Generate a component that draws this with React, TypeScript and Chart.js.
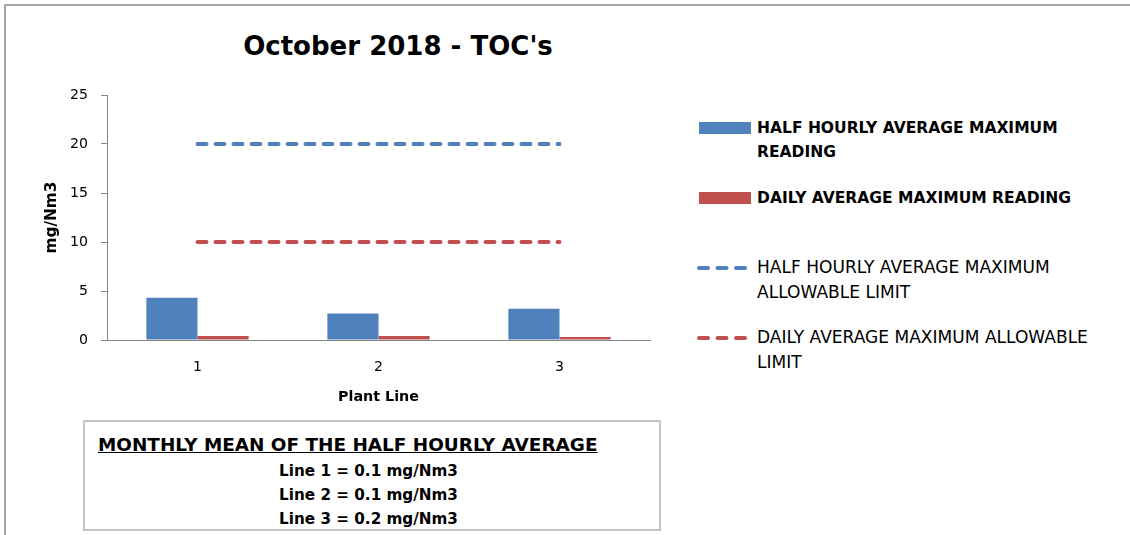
import React, { useEffect, useMemo, useRef } from 'react';
import { Chart, registerables } from 'chart.js';

Chart.register(...registerables);

// ---------- data ----------
const plantLines = ['1', '2', '3'];
const halfHourlyMaxReading = [4.3, 2.7, 3.2];
const dailyMaxReading = [0.4, 0.4, 0.3];
const halfHourlyLimit = [20, 20, 20];
const dailyLimit = [10, 10, 10];
const yMin = 0;
const yMax = 25;
const yStep = 5;
const monthlyMeanLineNames = ['Line 1', 'Line 2', 'Line 3'];
const monthlyMeanValues = ['0.1', '0.1', '0.2'];

const chartTitle = "October 2018 - TOC's";
const xAxisTitle = 'Plant Line';
const yAxisTitle = 'mg/Nm3';
const boxTitle = 'MONTHLY MEAN OF THE HALF HOURLY AVERAGE';
const unit = 'mg/Nm3';
const legendBar1 = ['HALF HOURLY AVERAGE MAXIMUM', 'READING'];
const legendBar2 = ['DAILY AVERAGE MAXIMUM READING'];
const legendLine1 = ['HALF HOURLY AVERAGE MAXIMUM', 'ALLOWABLE LIMIT'];
const legendLine2 = ['DAILY AVERAGE MAXIMUM ALLOWABLE', 'LIMIT'];

// ---------- style ----------
const FAMILY = 'DejaVu Sans';
const FONT = '"DejaVu Sans", sans-serif';
const BLUE = '#4F81BD';
const RED = '#C0504D';
const AXIS = '#868686';
const CAPC = 0.48; // cap-centre offset (em) for line-height 1

function measure(text: string, weight: string | number, size = 100): number {
  const c = document.createElement('canvas').getContext('2d');
  if (!c) return text.length * size * 0.6;
  c.font = `${weight} ${size}px "${FAMILY}"`;
  return c.measureText(text).width;
}
function fit(text: string, weight: string | number, target: number): number {
  return (100 * target) / measure(text, weight, 100);
}

function Txt(props: {
  text: string;
  x: number;
  cy: number;
  size: number;
  weight?: string | number;
  align?: 'left' | 'center';
  underline?: boolean;
}) {
  const { text, x, cy, size, weight = 'normal', align = 'left', underline } = props;
  const base: React.CSSProperties = {
    position: 'absolute',
    top: cy - CAPC * size,
    fontSize: size,
    lineHeight: `${size}px`,
    fontWeight: weight as any,
    fontFamily: FONT,
    whiteSpace: 'nowrap',
    color: '#000',
    textDecoration: underline ? 'underline' : 'none',
  };
  if (align === 'center') {
    return <div style={{ ...base, left: x - 500, width: 1000, textAlign: 'center' }}>{text}</div>;
  }
  return <div style={{ ...base, left: x }}>{text}</div>;
}

function DashSample({ color, x, cy }: { color: string; x: number; cy: number }) {
  return (
    <svg style={{ position: 'absolute', left: x, top: cy - 6 }} width={56} height={12}>
      <line x1={3} y1={6} x2={49} y2={6} stroke={color} strokeWidth={4} strokeLinecap="round" strokeDasharray="9 9.5" />
    </svg>
  );
}

function ChartCanvas({ tickSize, xTitleSize, yTitleSize }: { tickSize: number; xTitleSize: number; yTitleSize: number }) {
  const ref = useRef<HTMLCanvasElement | null>(null);
  useEffect(() => {
    if (!ref.current) return;
    const chart = new Chart(ref.current, {
      type: 'bar',
      data: {
        labels: plantLines,
        datasets: [
          {
            type: 'line',
            label: legendLine1.join(' '),
            data: halfHourlyLimit,
            borderColor: BLUE,
            borderWidth: 4,
            borderDash: [9, 9],
            borderCapStyle: 'round',
            pointRadius: 0,
            pointHoverRadius: 0,
            fill: false,
            order: 1,
          } as any,
          {
            type: 'line',
            label: legendLine2.join(' '),
            data: dailyLimit,
            borderColor: RED,
            borderWidth: 4,
            borderDash: [9, 9],
            borderCapStyle: 'round',
            pointRadius: 0,
            pointHoverRadius: 0,
            fill: false,
            order: 1,
          } as any,
          {
            type: 'bar',
            label: legendBar1.join(' '),
            data: halfHourlyMaxReading,
            backgroundColor: BLUE,
            borderWidth: 0,
            categoryPercentage: 0.565,
            barPercentage: 1,
            order: 2,
          },
          {
            type: 'bar',
            label: legendBar2.join(' '),
            data: dailyMaxReading,
            backgroundColor: RED,
            borderWidth: 0,
            categoryPercentage: 0.565,
            barPercentage: 1,
            order: 2,
          },
        ],
      },
      options: {
        responsive: false,
        maintainAspectRatio: false,
        animation: false,
        devicePixelRatio: 1,
        layout: { padding: { top: 15, left: 0, right: 30, bottom: 0 } },
        plugins: {
          legend: { display: false },
          tooltip: { enabled: false },
          title: { display: false },
        },
        scales: {
          x: {
            type: 'category',
            offset: true,
            grid: { display: false, drawTicks: false },
            border: { display: true, color: AXIS, width: 1 },
            ticks: { font: { family: FAMILY, size: tickSize }, color: '#000', padding: 19 },
            title: {
              display: true,
              text: xAxisTitle,
              color: '#000',
              font: { family: FAMILY, size: xTitleSize, weight: 'bold' },
              padding: { top: 0, bottom: Math.max(0, 23 - 0.6 * xTitleSize) },
            },
            afterFit: (s: any) => {
              s.height = 80;
              s.paddingLeft = 0;
              s.paddingRight = 0;
            },
          },
          y: {
            min: yMin,
            max: yMax,
            ticks: { stepSize: yStep, font: { family: FAMILY, size: tickSize }, color: '#000', padding: 13 },
            grid: { drawOnChartArea: false, drawTicks: true, tickLength: 6, color: AXIS, lineWidth: 1 },
            border: { display: true, color: AXIS, width: 1 },
            title: {
              display: true,
              text: yAxisTitle,
              color: '#000',
              font: { family: FAMILY, size: yTitleSize, weight: 'bold' },
              padding: { top: 51.7 - 0.6 * yTitleSize, bottom: 0 },
            },
            afterFit: (s: any) => {
              s.width = 107;
              s.paddingTop = 0;
              s.paddingBottom = 0;
            },
          },
        },
      } as any,
    });
    return () => chart.destroy();
  }, [tickSize, xTitleSize, yTitleSize]);
  return (
    <canvas
      ref={ref}
      width={680}
      height={340}
      style={{ position: 'absolute', left: 0, top: 80, width: 680, height: 340, display: 'block' }}
    />
  );
}

export default function App() {
  const sizes = useMemo(
    () => ({
      title: fit(chartTitle, 'bold', 310),
      legendBold: fit(legendBar1[0], 'bold', 301),
      legendNormal: fit(legendLine1[0], 'normal', 293),
      header: fit(boxTitle, 'bold', 500),
      line: fit(`${monthlyMeanLineNames[0]} = ${monthlyMeanValues[0]} ${unit}`, 'bold', 179),
      tick: fit('25', 'normal', 18),
      xTitle: fit(xAxisTitle, 'bold', 81),
      yTitle: fit(yAxisTitle, 'bold', 72),
    }),
    []
  );

  return (
    <div
      style={{
        position: 'absolute',
        left: 0,
        top: 0,
        width: 1130,
        height: 535,
        overflow: 'hidden',
        background: '#fff',
        fontFamily: FONT,
      }}
    >
      {/* outer frame */}
      <div
        style={{
          position: 'absolute',
          left: 4,
          top: 4,
          width: 1300,
          height: 700,
          border: '2px solid #a6a6a6',
          boxSizing: 'border-box',
        }}
      />

      <Txt text={chartTitle} x={398} cy={45.5} size={sizes.title} weight="bold" align="center" />

      <ChartCanvas tickSize={sizes.tick} xTitleSize={sizes.xTitle} yTitleSize={sizes.yTitle} />

      {/* legend */}
      <div style={{ position: 'absolute', left: 699, top: 122, width: 52, height: 12, background: BLUE }} />
      <Txt text={legendBar1[0]} x={757} cy={128} size={sizes.legendBold} weight="bold" />
      <Txt text={legendBar1[1]} x={757} cy={152} size={sizes.legendBold} weight="bold" />

      <div style={{ position: 'absolute', left: 699, top: 192, width: 52, height: 12, background: RED }} />
      <Txt text={legendBar2[0]} x={757} cy={198} size={sizes.legendBold} weight="bold" />

      <DashSample color={BLUE} x={696} cy={267.5} />
      <Txt text={legendLine1[0]} x={757} cy={267} size={sizes.legendNormal} />
      <Txt text={legendLine1[1]} x={757} cy={292} size={sizes.legendNormal} />

      <DashSample color={RED} x={696} cy={337.5} />
      <Txt text={legendLine2[0]} x={757} cy={337} size={sizes.legendNormal} />
      <Txt text={legendLine2[1]} x={757} cy={362} size={sizes.legendNormal} />

      {/* monthly mean box */}
      <div
        style={{
          position: 'absolute',
          left: 83,
          top: 420,
          width: 578,
          height: 111,
          border: '2px solid #c4c4c4',
          boxSizing: 'border-box',
        }}
      />
      <Txt text={boxTitle} x={98} cy={445} size={sizes.header} weight="bold" underline />
      {monthlyMeanLineNames.map((n, i) => (
        <Txt
          key={n}
          text={`${n} = ${monthlyMeanValues[i]} ${unit}`}
          x={368.5}
          cy={471 + i * 24}
          size={sizes.line}
          weight="bold"
          align="center"
        />
      ))}
    </div>
  );
}
